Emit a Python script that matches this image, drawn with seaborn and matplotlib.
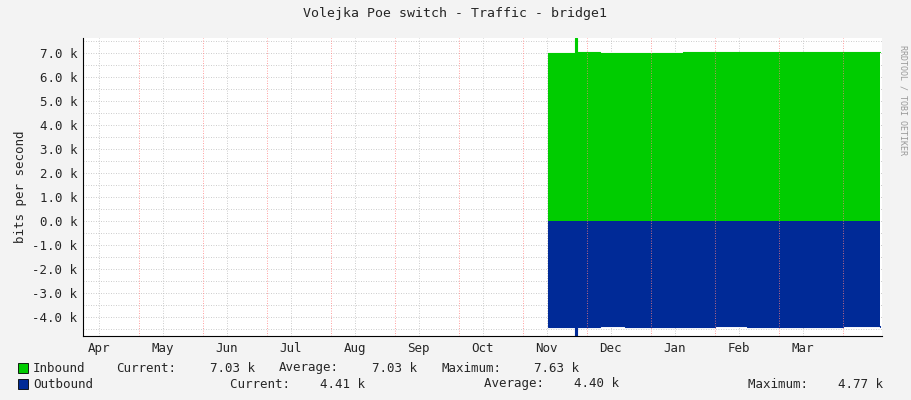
import numpy as np
import pandas as pd
import matplotlib
matplotlib.use("Agg")
import matplotlib.pyplot as plt
import seaborn as sns

# time axis in months (1.0 = start of Apr), values in bits/s
t_pos = [7.39, 7.5, 7.8, 7.82, 7.84, 8.2, 8.6, 9.0, 9.5, 10.0, 10.5, 11.0, 11.5, 12.0, 12.58]
inbound = [7000, 7010, 7020, 7630, 7030, 7020, 7000, 7010, 7030, 7040, 7060, 7040, 7030, 7050, 7030]
outbound = [4410, 4400, 4420, 4770, 4400, 4390, 4410, 4400, 4420, 4380, 4400, 4410, 4400, 4390, 4410]
month_labels = ["Mar", "Apr", "May", "Jun", "Jul", "Aug", "Sep", "Oct", "Nov", "Dec", "Jan", "Feb", "Mar"]

df = pd.DataFrame({"t": t_pos, "in": inbound, "out": [-v for v in outbound]})

sns.set_theme(style="white")
plt.rcParams["font.family"] = ["DejaVu Sans Mono"]
fig = plt.figure(figsize=(9.11, 4.0), dpi=100, facecolor="#F3F3F3")
ax = fig.add_axes([83/911, 1-336/400, 799/911, 298/400])
ax.set_facecolor("white")

ax.fill_between(df["t"], 0, df["in"], step="post", color="#00CC00", lw=0)
ax.fill_between(df["t"], 0, df["out"], step="post", color="#002A97", lw=0)
sns.lineplot(data=df, x="t", y="in", drawstyle="steps-post", color="#00CC00", lw=0.8, ax=ax)
sns.lineplot(data=df, x="t", y="out", drawstyle="steps-post", color="#002A97", lw=0.8, ax=ax)

yt = np.arange(-4000, 7001, 1000)
ax.set_yticks(yt)
ax.set_yticklabels([f"{v/1000:.1f} k" for v in yt], fontsize=9)
for v in np.arange(-4500, 7600, 500):
    ax.axhline(v, color="#BBBBBB", lw=0.6, ls=(0, (1, 2)), zorder=0)
for m in range(1, 13):
    ax.axvline(m, color="#FF8080", lw=0.6, ls=(0, (1, 2)), zorder=3)
mid = [m + 0.37 for m in range(-1, 12)]
for m in mid:
    if m > 0.125:
        ax.axvline(m, color="#BBBBBB", lw=0.6, ls=(0, (1, 2)), zorder=0)
ax.set_xticks(mid)
ax.set_xticklabels(month_labels, fontsize=9)
ax.set_xlim(0.125, 12.61)
ax.set_ylim(-4790, 7630)
ax.tick_params(length=2, pad=2)
ax.set_xlabel("")
ax.set_ylabel("bits per second", fontsize=9)
for s in ["top", "right"]:
    ax.spines[s].set_visible(False)
for s in ["left", "bottom"]:
    ax.spines[s].set_color("black")
    ax.spines[s].set_linewidth(0.8)

fig.text(455/911, 1-14/400, "Volejka Poe switch - Traffic - bridge1", ha="center", va="center", fontsize=9.5)
fig.text(903/911, 1-100/400, "RRDTOOL / TOBI OETIKER", rotation=270, ha="center", va="center",
         fontsize=6, color="#999999")

fig.patches.append(plt.Rectangle((18/911, 1-373/400), 10/911, 10/400, transform=fig.transFigure,
                                 facecolor="#00CC00", edgecolor="black", lw=0.6))
fig.patches.append(plt.Rectangle((18/911, 1-389/400), 10/911, 10/400, transform=fig.transFigure,
                                 facecolor="#002A97", edgecolor="black", lw=0.6))
row1 = [(33, "Inbound"), (116, "Current:"), (210, "7.03 k"), (279, "Average:"), (372, "7.03 k"),
        (441, "Maximum:"), (534, "7.63 k")]
for x, s in row1:
    fig.text(x/911, 1-368/400, s, fontsize=9, va="center")
fig.text(33/911, 1-384/400, "Outbound", fontsize=9, va="center")
fig.text(230/911, 1-384/400, "Current:    4.41 k", fontsize=9, va="center")
fig.text(484/911, 1-384/400, "Average:    4.40 k", fontsize=9, va="center")
fig.text(748/911, 1-384/400, "Maximum:    4.77 k", fontsize=9, va="center")

fig.savefig("out.png", dpi=100, facecolor=fig.get_facecolor())
